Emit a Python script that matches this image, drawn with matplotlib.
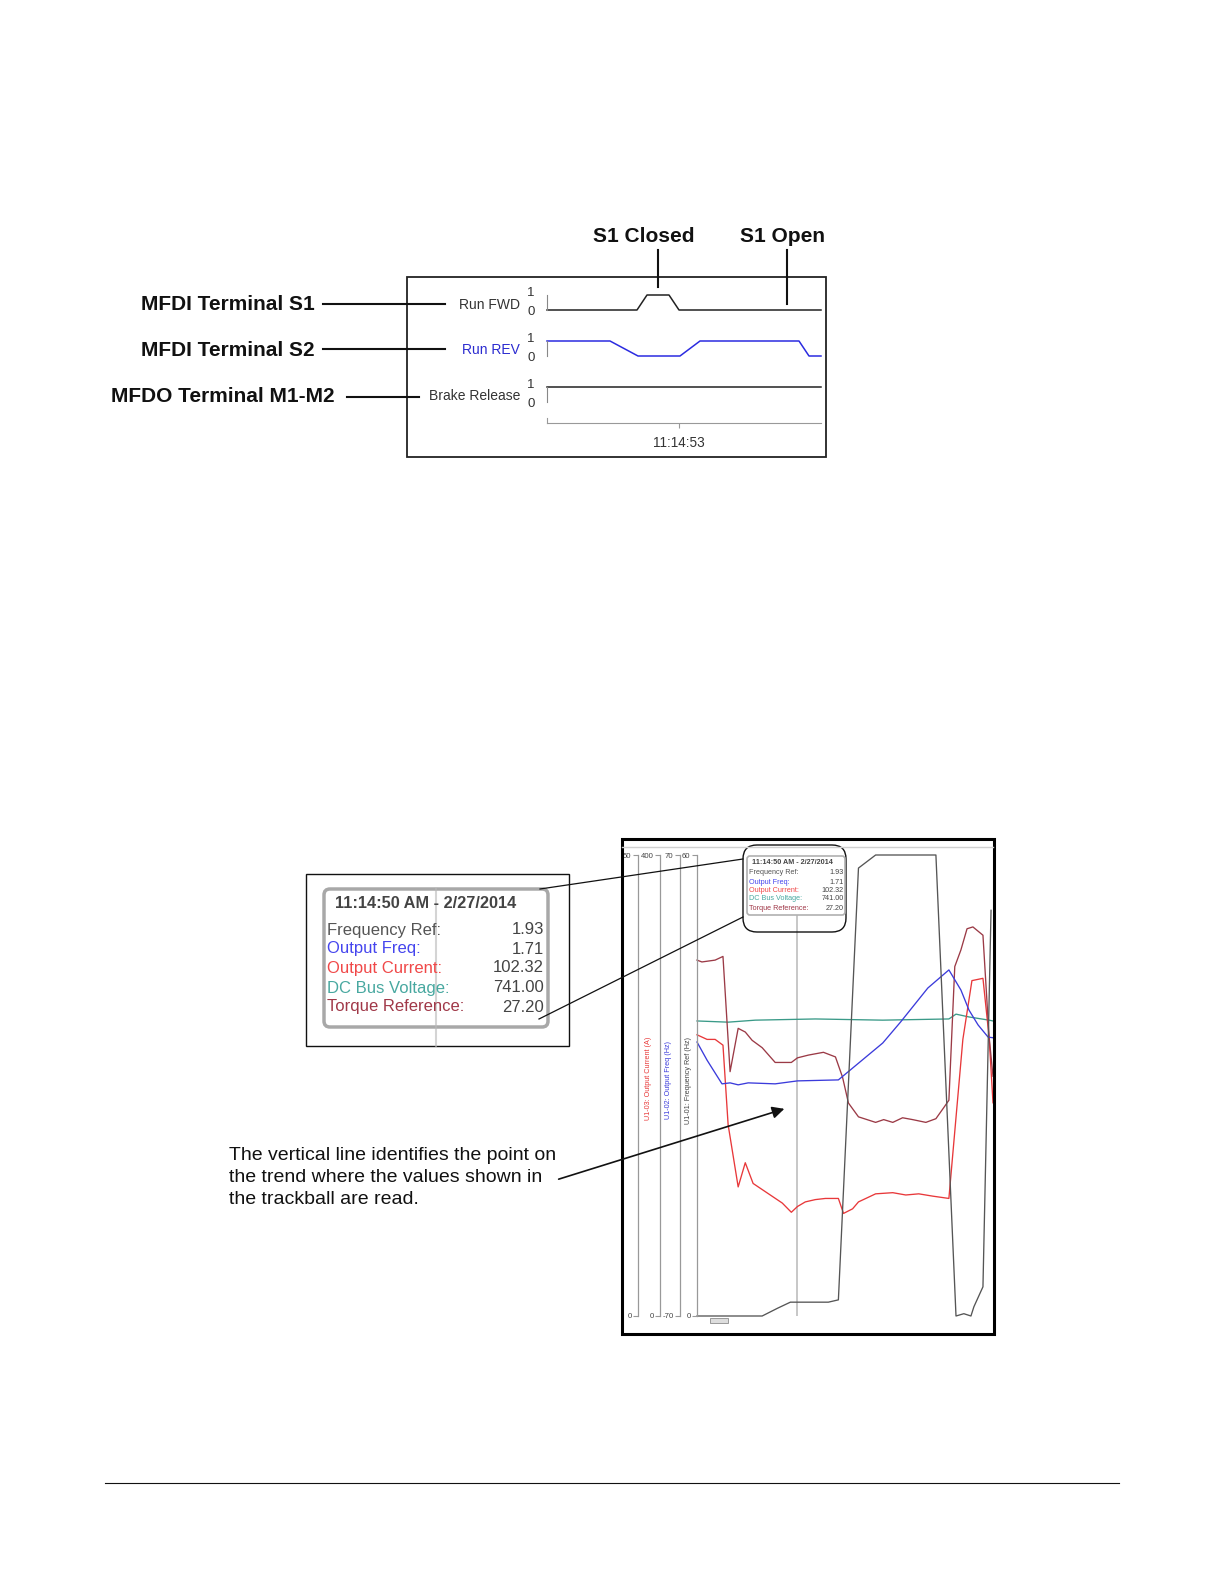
import matplotlib
matplotlib.use("Agg")
import matplotlib.pyplot as plt
from matplotlib.patches import FancyBboxPatch, Rectangle
from matplotlib.transforms import blended_transform_factory

plt.rcParams["font.family"] = ["Liberation Sans", "DejaVu Sans"]

W, H = 1224, 1584

# ---- top trend: digital I/O, time in s relative to 11:14:53
io_names = ["Run FWD", "Run REV", "Brake Release"]
io_terminals = ["MFDI Terminal S1", "MFDI Terminal S2", "MFDO Terminal M1-M2"]
fwd_t = [-3.3, -1.05, -0.8, -0.25, 0.0, 3.55]
fwd_v = [0, 0, 1, 1, 0, 0]
rev_t = [-3.3, -1.725, -1.025, 0.025, 0.525, 3.0, 3.25, 3.55]
rev_v = [1, 1, 0, 0, 1, 1, 0, 0]
brake_t = [-3.3, 3.55]
brake_v = [1, 1]
io_tick = [0.0]
io_tick_labels = ["11:14:53"]
events = ["S1 Closed", "S1 Open"]
event_t = [-0.525, 2.7]

# ---- bottom trend: analog monitors, time in s from left edge of the plot
freq_ref_t = [0, 2.66, 3.28, 3.81, 5.36, 5.77, 6.59, 7.29, 9.75, 10.57, 10.89, 11.18, 11.30, 11.67, 12.0]
freq_ref = [0, 0, 1.0, 1.8, 1.8, 2.1, 58.3, 60, 60, 0, 0.3, 0, 1.2, 3.8, 52.8]

out_freq_t = [0, 0.41, 0.74, 1.02, 1.35, 1.68, 2.09, 3.19, 4.10, 5.77, 7.58, 8.31, 9.42, 10.28,
              10.77, 11.10, 11.47, 11.88, 12.08]
out_freq = [13.2, 7.7, 3.8, 0.5, 0.8, 0.2, 0.8, 0.5, 1.4, 1.7, 12.9, 19.3, 29.6, 35.1,
            29.0, 22.9, 18.4, 14.7, 14.5]

current_t = [0, 0.41, 0.74, 1.06, 1.27, 1.68, 1.97, 2.29, 2.78, 3.48, 3.85, 4.10, 4.42, 4.83, 5.24,
             5.77, 5.98, 6.35, 6.59, 7.29, 7.99, 8.52, 9.05, 9.62, 10.28, 10.85, 11.22, 11.67,
             11.92, 12.08]
current = [244, 240, 240, 235, 166, 112, 133, 115, 108, 98, 90, 95, 99, 101, 102,
           102, 89, 93, 99, 106, 107, 105, 106, 104, 102, 240, 291, 293, 242, 185]

torque_t = [0, 0.2, 0.74, 1.06, 1.35, 1.68, 1.97, 2.25, 2.66, 3.19, 3.85, 4.10, 4.55, 5.16, 5.65,
            5.94, 6.18, 6.59, 7.29, 7.62, 7.99, 8.39, 8.80, 9.34, 9.75, 10.07, 10.28, 10.52,
            10.77, 11.02, 11.26, 11.67, 11.92, 12.08]
torque = [38.6, 38.4, 38.6, 39.0, 26.5, 31.2, 30.8, 29.9, 29.1, 27.5, 27.5, 28.0, 28.3, 28.6, 28.1,
          25.9, 23.1, 21.6, 21.0, 21.3, 21.0, 21.5, 21.3, 21.0, 21.4, 22.6, 23.4, 37.9,
          39.7, 42.0, 42.2, 41.3, 30.3, 26.0]

dc_bus_t = [0, 1.27, 2.38, 4.83, 7.58, 10.28, 10.57, 11.10, 11.92, 12.08]
dc_bus = [736, 733, 738, 741, 738, 741, 753, 746, 738, 736]

trackball_t = 4.10
trackball_time = "11:14:50 AM - 2/27/2014"
trackball_fields = ["Frequency Ref:", "Output Freq:", "Output Current:", "DC Bus Voltage:", "Torque Reference:"]
trackball_values = ["1.93", "1.71", "102.32", "741.00", "27.20"]
field_colors = ["#555555", "#4545ee", "#f04848", "#48a8a0", "#a03848"]

ruler_ranges = [(0, 50), (0, 400), (-70, 70), (0, 60)]
ruler_names = ["U1-03: Output Current (A)", "U1-02: Output Freq (Hz)", "U1-01: Frequency Ref (Hz)"]
ruler_colors = ["#e83838", "#3b3bdb", "#444444"]

note = ["The vertical line identifies the point on",
        "the trend where the values shown in",
        "the trackball are read."]


def px_axes(fig, x0, y0, x1, y1, **kw):
    return fig.add_axes([x0 / W, 1 - y1 / H, (x1 - x0) / W, (y1 - y0) / H], **kw)


fig = plt.figure(figsize=(W / 100, H / 100), dpi=100)
page = fig.add_axes([0, 0, 1, 1], zorder=5)
page.set_xlim(0, W)
page.set_ylim(H, 0)
page.axis("off")

# ================= top chart =================
rows = [(fwd_t, fwd_v, "#222222", "#333333", 295, 310, 305, (293, 312)),
        (rev_t, rev_v, "#2b2be0", "#2b2bd0", 341, 356, 350, (339, 358)),
        (brake_t, brake_v, "#222222", "#333333", 387, 402, 396, (385, 404))]
io_axes = []
for (t, v, lc, tc, y1, y0, ylab, (y_one, y_zero)), name in zip(rows, io_names):
    ax = px_axes(fig, 547, y1, 821, y0)
    ax.plot(t, v, color=lc, lw=1.1, clip_on=False)
    ax.set_xlim(-3.3, 3.55)
    ax.set_ylim(0, 1)
    for s in ["top", "right", "bottom"]:
        ax.spines[s].set_visible(False)
    ax.spines["left"].set_color("#888888")
    ax.spines["left"].set_linewidth(0.8)
    ax.set_xticks([])
    ax.set_yticks([])
    ax.patch.set_visible(False)
    page.text(520, ylab, name, ha="right", va="center", fontsize=10, color=tc)
    page.text(531, y_one, "1", ha="center", va="center", fontsize=9.5, color="#333333")
    page.text(531, y_zero, "0", ha="center", va="center", fontsize=9.5, color="#333333")
    io_axes.append(ax)

tax = px_axes(fig, 547, 418, 821, 423)
tax.set_xlim(-3.3, 3.55)
tax.set_ylim(0, 1)
tax.spines["top"].set_visible(False)
tax.spines["right"].set_visible(False)
for s in ["left", "bottom"]:
    tax.spines[s].set_color("#999999")
    tax.spines[s].set_linewidth(0.8)
tax.set_yticks([])
tax.set_xticks(io_tick, io_tick_labels)
tax.tick_params(axis="x", length=3.6, width=0.8, color="#999999", pad=6, labelsize=9.8, labelcolor="#333333")
tax.patch.set_visible(False)

page.add_patch(Rectangle((407, 277), 419, 180, fill=False, ec="#222222", lw=1.3))

term_pos = [(315, 305, 323, 445, 304), (315, 350, 323, 445, 349), (335, 397, 347, 419, 397)]
for label, (tx, ty, lx0, lx1, ly) in zip(io_terminals, term_pos):
    page.text(tx, ty, label, ha="right", va="center", fontsize=15, fontweight="bold", color="#111111")
    page.plot([lx0, lx1], [ly, ly], color="#111111", lw=1.5)

ev_tr = blended_transform_factory(io_axes[0].transData, page.transData)
for label, et, (lx, ly_end) in zip(events, event_t, [(644, 287), (782, 304)]):
    page.plot([et, et], [250, ly_end], color="#111111", lw=1.5, transform=ev_tr)
    page.text(lx, 237, label, ha="center", va="center", fontsize=15, fontweight="bold", color="#111111")

# ================= bottom chart =================
base = px_axes(fig, 697, 855, 993, 1316)
base.set_xlim(0, 12.08)
base.axis("off")
base.axvline(trackball_t, color="#b8b8b8", lw=1.1)

series = [(dc_bus_t, dc_bus, (0, 1150), "#3a9a88"),
          (current_t, current, (0, 400), "#e8383a"),
          (torque_t, torque, (0, 50), "#9b3a46"),
          (out_freq_t, out_freq, (-70, 70), "#3b3bdb"),
          (freq_ref_t, freq_ref, (0, 60), "#555555")]
for t, v, lim, c in series:
    ax = base.twinx()
    ax.set_ylim(*lim)
    ax.axis("off")
    ax.plot(t, v, color=c, lw=0.95, clip_on=False)

for xline, (lo, hi) in zip([638, 660, 680, 697], ruler_ranges):
    ax = px_axes(fig, xline, 855, xline + 1, 1316)
    ax.set_ylim(lo, hi)
    for s in ["top", "right", "bottom"]:
        ax.spines[s].set_visible(False)
    ax.spines["left"].set_color("#999999")
    ax.spines["left"].set_linewidth(0.9)
    ax.set_xticks([])
    ax.set_yticks([lo, hi], [f"{lo:g}", f"{hi:g}"])
    ax.tick_params(axis="y", length=3.6, width=0.8, color="#999999", pad=1, labelsize=5.6, labelcolor="#444444")
    ax.patch.set_visible(False)

for name, c, (x, y) in zip(ruler_names, ruler_colors, [(648, 1078), (668, 1080), (689, 1081)]):
    page.text(x, y, name, rotation=90, ha="center", va="center", fontsize=5.2, color=c)

page.plot([622, 993], [847, 847], color="#d0d0d0", lw=1)
page.add_patch(Rectangle((710, 1318), 18, 5, fc="#dddddd", ec="#999999", lw=0.7))
page.add_patch(Rectangle((622, 839), 372, 495, fill=False, ec="#000000", lw=2.2))

# small trackball inside the trend
page.add_patch(FancyBboxPatch((743, 845), 103, 87, boxstyle="round,pad=0,rounding_size=14",
                              fc="none", ec="#111111", lw=1))
page.add_patch(FancyBboxPatch((747, 856), 98, 59, boxstyle="round,pad=0,rounding_size=3",
                              fc="white", ec="#b0b0b0", lw=1.2))
page.text(752, 862, trackball_time, ha="left", va="center", fontsize=5.2, fontweight="bold", color="#444444")
for i, (f, val, c) in enumerate(zip(trackball_fields, trackball_values, field_colors)):
    y = [873, 882, 890, 899, 908][i]
    page.text(749, y, f, ha="left", va="center", fontsize=5.2, color=c)
    page.text(844, y, val, ha="right", va="center", fontsize=5.2, color="#444444")

# enlarged trackball
page.add_patch(Rectangle((306, 874), 263, 172, fill=False, ec="#111111", lw=1))
page.add_patch(FancyBboxPatch((324, 889), 224, 138, boxstyle="round,pad=0,rounding_size=6",
                              fc="white", ec="#a8a8a8", lw=2.5))
page.plot([436, 436], [889, 1046], color="#b8b8b8", lw=1.5, alpha=0.6)
page.text(335, 903, trackball_time, ha="left", va="center", fontsize=11.8, fontweight="bold", color="#444444")
for i, (f, val, c) in enumerate(zip(trackball_fields, trackball_values, field_colors)):
    y = [930, 949, 968, 988, 1007][i]
    page.text(327, y, f, ha="left", va="center", fontsize=12, color=c)
    page.text(544, y, val, ha="right", va="center", fontsize=12, color="#444444")

page.plot([540, 743], [889, 859], color="#111111", lw=0.9)
page.plot([539, 743], [1019, 917], color="#111111", lw=0.9)

for i, line in enumerate(note):
    page.text(229, [1155, 1177, 1200][i], line, ha="left", va="center", fontsize=14, color="#111111")
page.annotate("", xy=(787, 1108), xytext=(556, 1180),
              arrowprops=dict(arrowstyle="-|>", color="#111111", lw=1.2, mutation_scale=18))

page.plot([105, 1119], [1483, 1483], color="#111111", lw=0.8)

fig.savefig("out.png", dpi=100)
